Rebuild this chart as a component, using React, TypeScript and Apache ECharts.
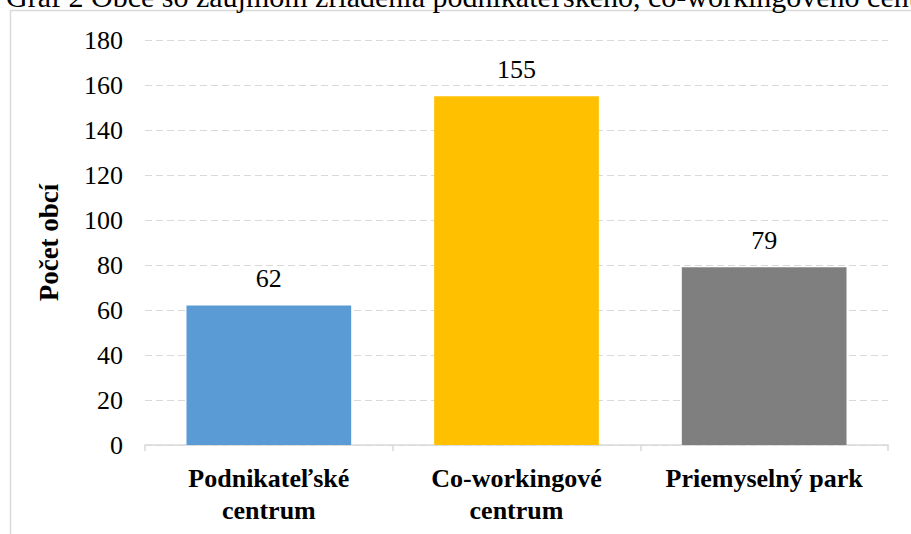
import React, { useEffect, useRef } from "react";
import * as echarts from "echarts";

const categories = ["Podnikateľské\ncentrum", "Co-workingové\ncentrum", "Priemyselný park"];
const values = [62, 155, 79];
const colors = ["#5B9BD5", "#FFC000", "#7F7F7F"];
const yAxisName = "Počet obcí";
const titleText = "Graf 2 Obce so záujmom zriadenia podnikateľského, co-workingového centra a priemyselného parku";

export default function App() {
  const ref = useRef<HTMLDivElement>(null);
  useEffect(() => {
    document.body.style.margin = "0";
    const chart = echarts.init(ref.current!, null, { renderer: "svg" });
    const serif = "serif";
    chart.setOption({
      animation: false,
      backgroundColor: "#fff",
      textStyle: { fontFamily: serif },
      graphic: [
        {
          type: "rect",
          shape: { x: 10.5, y: 10.5, width: 1000, height: 1000 },
          style: { fill: "none", stroke: "#d9d9d9", lineWidth: 1.5 },
          z: -1,
        },
        {
          type: "text",
          x: 6,
          y: -4,
          style: {
            text: titleText,
            fontFamily: serif,
            fontSize: 30,
            fill: "#000",
            verticalAlign: "middle",
          },
        },
      ],
      grid: { left: 145, right: 23, top: 40, bottom: 89 },
      xAxis: {
        type: "category",
        data: categories,
        axisLine: { lineStyle: { color: "#d9d9d9", width: 1.5 } },
        axisTick: { show: true, length: 6, lineStyle: { color: "#d9d9d9", width: 1.5 } },
        axisLabel: {
          color: "#000",
          fontFamily: serif,
          fontWeight: "bold",
          fontSize: 26,
          lineHeight: 32,
          margin: 17,
          interval: 0,
        },
      },
      yAxis: {
        type: "value",
        min: 0,
        max: 180,
        interval: 20,
        name: yAxisName,
        nameLocation: "middle",
        nameGap: 83,
        nameTextStyle: { color: "#000", fontFamily: serif, fontWeight: "bold", fontSize: 27 },
        axisLine: { show: false },
        axisTick: { show: false },
        axisLabel: { color: "#000", fontFamily: serif, fontSize: 26, margin: 22 },
        splitLine: { lineStyle: { color: "#d9d9d9", type: [7, 4], width: 1 } },
      },
      series: [
        {
          type: "bar",
          barWidth: "66.5%",
          data: values.map((v, i) => ({ value: v, itemStyle: { color: colors[i] } })),
          label: {
            show: true,
            position: "top",
            distance: 14,
            color: "#000",
            fontFamily: serif,
            fontSize: 26,
          },
        },
      ],
    });
    return () => chart.dispose();
  }, []);
  return <div ref={ref} style={{ position: "fixed", left: 0, top: 0, width: 911, height: 534 }} />;
}
